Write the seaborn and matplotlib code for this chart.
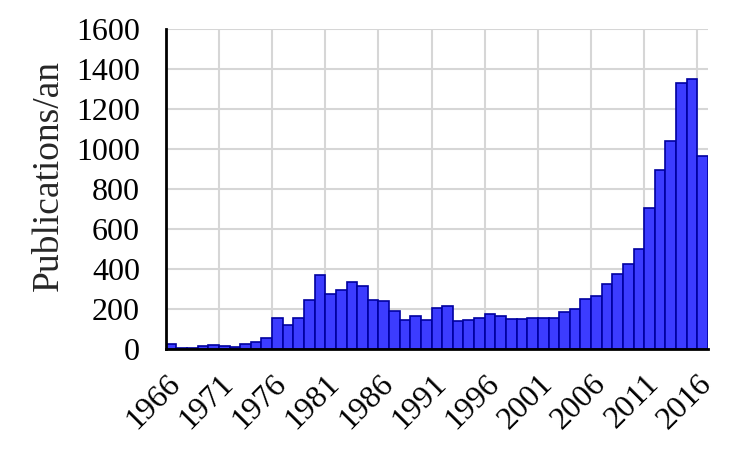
import matplotlib
matplotlib.use("Agg")
import matplotlib.pyplot as plt
import matplotlib.transforms as mtransforms
import seaborn as sns
import numpy as np
import pandas as pd

years = list(range(1966, 2017))
publications = [22, 3, 3, 15, 20, 15, 10, 25, 33, 53,
                155, 120, 155, 245, 370, 275, 295, 334, 314, 245,
                239, 189, 145, 165, 145, 205, 212, 139, 145, 155,
                175, 162, 149, 149, 154, 154, 154, 184, 199, 250,
                264, 326, 374, 424, 499, 705, 895, 1040, 1328, 1351,
                962]
tick_years = list(range(1966, 2017, 5))
y_ticks = list(range(0, 1601, 200))

df = pd.DataFrame({'Année': years, 'Publications': publications})

sns.set_style("white")
plt.rcParams['font.family'] = ['Liberation Serif', 'DejaVu Serif']

fig = plt.figure(figsize=(7.5, 4.5), dpi=100)
ax = fig.add_axes([0.221, 0.225, 0.723, 0.711])

sns.histplot(data=df, x='Année', weights='Publications',
             binwidth=1, binrange=(1966, 2017), color='#3c3cff', alpha=1,
             edgecolor='#0000a0', linewidth=1.2, ax=ax, zorder=3)

ax.set_xlim(1966, 2017)
ax.set_ylim(0, 1600)
ax.set_xticks(tick_years)
ax.set_xticklabels([str(y) for y in tick_years], rotation=45, ha='right',
                   va='top', rotation_mode='anchor', fontsize=23)
ax.set_yticks(y_ticks)
ax.set_yticklabels([str(v) for v in y_ticks], fontsize=23)

# shift rotated year labels a little to the right
shift = mtransforms.ScaledTranslation(5 / 72, 0, fig.dpi_scale_trans)
for lbl in ax.get_xticklabels():
    lbl.set_transform(lbl.get_transform() + shift)

ax.grid(True, color='#d6d6d6', linewidth=1.5, zorder=0)
ax.set_axisbelow(True)

for s in ['top', 'right']:
    ax.spines[s].set_visible(False)
for s in ['left', 'bottom']:
    ax.spines[s].set_linewidth(2)
    ax.spines[s].set_color('black')
    ax.spines[s].set_zorder(4)

ax.tick_params(axis='both', direction='out', length=6.5, width=2, colors='black')
ax.tick_params(axis='y', pad=12)
ax.tick_params(axis='x', pad=8)

ax.set_xlabel('')
ax.set_ylabel('Publications/an', fontsize=27)
ax.yaxis.set_label_coords(-0.184, 0.54)

plt.savefig('out.png', dpi=100)
